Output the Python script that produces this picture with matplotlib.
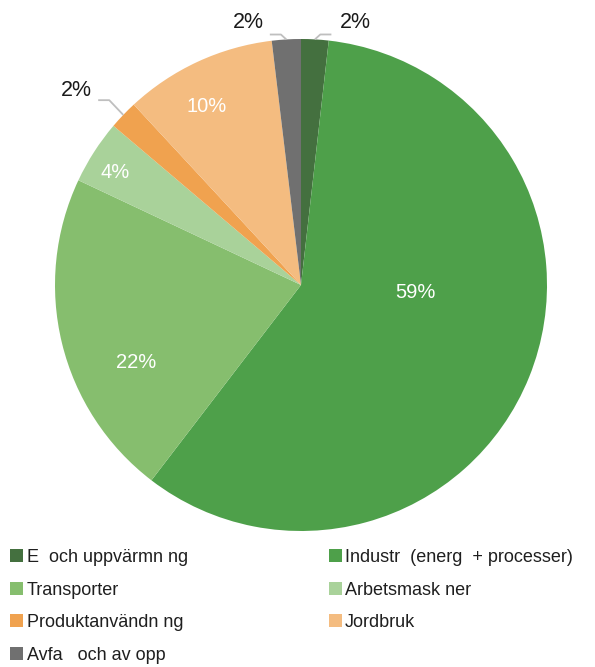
import matplotlib
matplotlib.use("Agg")
import matplotlib.pyplot as plt
from matplotlib.patches import Patch
import numpy as np

plt.rcParams['font.family'] = ['Liberation Sans', 'DejaVu Sans']

categories = ["E  och uppvärmn ng", "Industr  (energ  + processer)", "Transporter",
              "Arbetsmask ner", "Produktanvändn ng", "Jordbruk", "Avfa   och av opp"]
values = [1.8, 58.6, 21.6, 4.2, 1.9, 10.0, 1.9]
colors = ["#44703f", "#4ea04a", "#86be6e", "#a9d29a", "#f0a24f", "#f4bc80", "#707070"]
pct_labels = ["2%", "59%", "22%", "4%", "2%", "10%", "2%"]

W, H = 595, 667
fig = plt.figure(figsize=(W / 100, H / 100), dpi=100)
ax = fig.add_axes([0, 0, 1, 1])
cx, cy, R = 301, 285, 246

wedges, _ = ax.pie(values, colors=colors, startangle=90, counterclock=False,
                   radius=1.0, center=(0, 0), frame=True,
                   wedgeprops=dict(linewidth=0))
ax.set_xlim(-cx / R, (W - cx) / R)
ax.set_ylim(-(H - cy) / R, cy / R)
ax.set_aspect('auto')
ax.axis('off')

def px(x, y):
    return ((x - cx) / R, (cy - y) / R)

# inside labels (white)
inside = {1: (415, 293), 2: (136, 362), 3: (115, 172), 5: (207, 106)}
for i, (x, y) in inside.items():
    ax.text(*px(x, y), pct_labels[i], color="white", fontsize=14.5,
            ha="center", va="center")

# outside labels with leader lines
outside = {0: ((355, 23), 1), 6: ((248, 22), -1), 4: ((76, 91), -1)}
for i, ((x, y), side) in outside.items():
    w = wedges[i]
    mid = np.deg2rad((w.theta1 + w.theta2) / 2)
    p0 = np.array([np.cos(mid), np.sin(mid)])
    if i == 4:
        p1 = p0 + np.array([-0.057, 0.06])
    else:
        p1 = p0 + np.array([side * 0.022, 0.02])
    p2 = p1 + np.array([side * 0.045, 0])
    ax.plot([p0[0], p1[0], p2[0]], [p0[1], p1[1], p2[1]], color="#bfbfbf", lw=1.3,
            solid_capstyle='butt')
    ax.text(*px(x, y), pct_labels[i], color="#1a1a1a", fontsize=15.5,
            ha="center", va="center")

# legend, column-major order to mimic row-wise layout
order = [0, 2, 4, 6, 1, 3, 5]
handles = [Patch(facecolor=colors[i], edgecolor='none') for i in order]
labels = [categories[i] for i in order]
leg = fig.legend(handles, labels, ncol=2, loc='upper left',
                 bbox_to_anchor=(10 / W, 1 - 549 / H), frameon=False,
                 fontsize=13, handlelength=0.72, handleheight=0.72,
                 handletextpad=0.2, labelspacing=0.86, columnspacing=7.8,
                 borderpad=0, borderaxespad=0)
for t in leg.get_texts():
    t.set_color("#1f1f1f")

fig.savefig("out.png", dpi=100)
